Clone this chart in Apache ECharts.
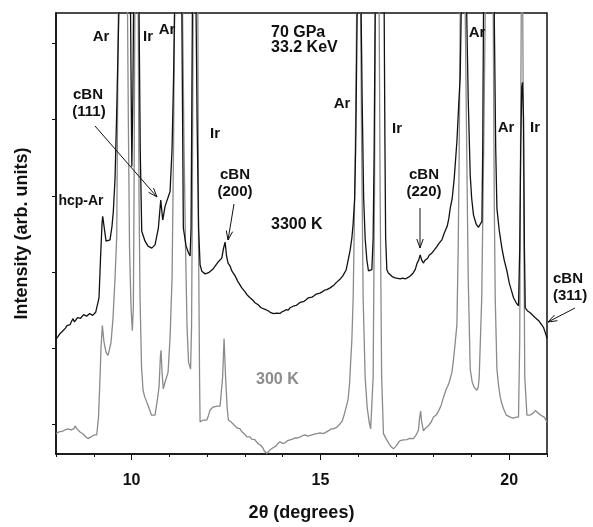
<!DOCTYPE html>
<html>
<head>
<meta charset="utf-8">
<script src="https://cdn.jsdelivr.net/npm/echarts@6/dist/echarts.min.js"></script>
<style>
html,body{margin:0;padding:0;background:#fff;}
#c{width:593px;height:527px;}
</style>
</head>
<body>
<div id="c"></div>
<script>
// 2θ (degrees), intensity (arb. units) — 3300 K pattern (black)
const hot3300K = [
[8.000,1.117],[8.050,1.150],[8.106,1.191],[8.160,1.215],[8.212,1.230],[8.250,1.262],[8.291,1.295],[8.330,1.285],[8.371,1.308],[8.410,1.350],[8.450,1.387],[8.490,1.345],[8.530,1.361],[8.570,1.400],[8.609,1.426],[8.650,1.392],[8.689,1.400],[8.730,1.440],[8.768,1.452],[8.810,1.420],[8.848,1.413],[8.890,1.455],[8.927,1.465],[8.970,1.430],[9.007,1.439],[9.050,1.470],[9.086,1.491],[9.139,1.661],[9.179,2.182],[9.219,2.639],[9.237,2.730],[9.272,2.600],[9.325,2.404],[9.377,2.404],[9.430,2.421],[9.483,2.600],[9.518,2.796],[9.563,3.226],[9.603,4.009],[9.637,4.791],[9.664,5.40],[9.815,9],[9.974,5.40],[9.992,4.270],[10.008,3.383],[10.034,4.270],[10.053,5.40],[10.119,9],[10.199,5.40],[10.230,3.617],[10.270,2.535],[10.358,2.404],[10.437,2.339],[10.535,2.313],[10.622,2.356],[10.710,2.574],[10.773,2.943],[10.826,2.682],[10.887,2.861],[10.932,2.835],[11.020,3.056],[11.073,3.617],[11.112,4.531],[11.139,5.40],[11.250,9],[11.332,5.40],[11.372,2.574],[11.444,2.339],[11.510,2.250],[11.550,2.209],[11.576,2.574],[11.597,4.270],[11.611,5.40],[11.656,9],[11.709,5.40],[11.735,4.009],[11.775,2.574],[11.815,2.095],[11.860,2.010],[11.902,1.987],[11.950,1.975],[11.992,1.965],[12.040,1.990],[12.079,2.013],[12.159,2.039],[12.212,2.078],[12.291,2.130],[12.340,2.150],[12.389,2.182],[12.437,2.313],[12.477,2.391],[12.516,2.209],[12.556,2.117],[12.609,2.078],[12.650,2.020],[12.689,1.987],[12.730,1.960],[12.768,1.922],[12.810,1.880],[12.848,1.856],[12.919,1.791],[12.960,1.770],[13.007,1.739],[13.050,1.705],[13.086,1.700],[13.130,1.665],[13.165,1.648],[13.220,1.625],[13.271,1.595],[13.310,1.585],[13.351,1.569],[13.390,1.545],[13.430,1.530],[13.480,1.520],[13.536,1.508],[13.580,1.485],[13.616,1.491],[13.670,1.470],[13.722,1.465],[13.760,1.452],[13.801,1.443],[13.840,1.460],[13.881,1.465],[13.930,1.455],[13.987,1.478],[14.040,1.490],[14.093,1.504],[14.150,1.500],[14.199,1.530],[14.250,1.545],[14.305,1.556],[14.360,1.560],[14.411,1.582],[14.460,1.600],[14.517,1.608],[14.570,1.615],[14.623,1.635],[14.680,1.660],[14.729,1.674],[14.780,1.670],[14.834,1.687],[14.890,1.710],[14.940,1.726],[14.990,1.722],[15.046,1.739],[15.110,1.760],[15.171,1.769],[15.220,1.775],[15.258,1.791],[15.310,1.815],[15.364,1.830],[15.420,1.860],[15.470,1.882],[15.510,1.900],[15.550,1.922],[15.590,1.945],[15.629,1.961],[15.682,2.026],[15.735,2.156],[15.788,2.287],[15.833,2.443],[15.868,2.639],[15.907,2.965],[15.934,3.617],[15.955,4.531],[15.973,5.40],[16.026,9],[16.079,5.40],[16.106,4.270],[16.146,2.965],[16.185,2.443],[16.230,2.160],[16.273,2.013],[16.318,2.013],[16.363,2.030],[16.397,2.443],[16.424,3.617],[16.450,5.40],[16.570,9],[16.689,5.40],[16.710,3.617],[16.728,2.443],[16.760,2.030],[16.800,1.985],[16.848,1.961],[16.900,1.940],[16.980,1.922],[17.050,1.915],[17.113,1.908],[17.180,1.920],[17.245,1.908],[17.310,1.925],[17.378,1.948],[17.457,1.987],[17.510,2.030],[17.563,2.117],[17.603,2.156],[17.642,2.225],[17.682,2.156],[17.730,2.117],[17.765,2.150],[17.801,2.170],[17.840,2.180],[17.881,2.220],[17.920,2.235],[17.952,2.248],[18.013,2.287],[18.050,2.300],[18.093,2.339],[18.145,2.378],[18.180,2.390],[18.217,2.421],[18.278,2.509],[18.357,2.600],[18.400,2.700],[18.437,2.835],[18.490,2.965],[18.543,3.226],[18.614,3.709],[18.657,4.139],[18.702,4.574],[18.728,5.40],[18.795,9],[18.874,5.40],[18.914,4.270],[18.967,3.269],[19.006,2.965],[19.054,2.747],[19.126,2.626],[19.187,2.587],[19.232,2.600],[19.277,2.665],[19.298,3.617],[19.319,5.40],[19.470,9],[19.603,5.40],[19.642,3.617],[19.674,2.835],[19.735,2.548],[19.806,2.313],[19.867,2.156],[19.939,2.013],[20.000,1.856],[20.053,1.765],[20.114,1.661],[20.185,1.595],[20.246,1.556],[20.278,2.313],[20.304,3.617],[20.331,4.426],[20.352,4.491],[20.379,4.009],[20.402,2.313],[20.424,1.530],[20.477,1.491],[20.556,1.465],[20.636,1.426],[20.690,1.400],[20.734,1.378],[20.780,1.360],[20.821,1.348],[20.870,1.300],[20.909,1.269],[20.950,1.210],[20.980,1.165],[21.000,1.126]
];

// 300 K pattern (gray)
const cold300K = [
[8.000,-0.123],[8.040,-0.110],[8.079,-0.100],[8.120,-0.105],[8.159,-0.094],[8.200,-0.085],[8.238,-0.074],[8.280,-0.080],[8.318,-0.061],[8.360,-0.068],[8.397,-0.074],[8.440,-0.060],[8.477,-0.057],[8.503,-0.022],[8.530,-0.040],[8.556,-0.061],[8.600,-0.075],[8.636,-0.100],[8.680,-0.110],[8.715,-0.127],[8.760,-0.140],[8.795,-0.166],[8.848,-0.188],[8.890,-0.175],[8.927,-0.166],[8.970,-0.150],[9.007,-0.140],[9.078,-0.140],[9.126,0.095],[9.166,0.617],[9.192,1.008],[9.227,1.295],[9.272,1.074],[9.325,0.943],[9.377,0.904],[9.412,0.917],[9.457,1.074],[9.510,1.400],[9.563,1.922],[9.608,2.469],[9.629,4.009],[9.650,5.40],[9.767,9],[9.894,5.40],[9.915,4.009],[9.947,2.313],[9.987,1.530],[10.021,1.230],[10.048,1.530],[10.066,2.965],[10.087,5.40],[10.132,9],[10.177,5.40],[10.199,2.965],[10.225,1.661],[10.265,0.747],[10.305,0.447],[10.350,0.360],[10.403,0.291],[10.450,0.230],[10.490,0.173],[10.530,0.120],[10.570,0.095],[10.622,0.121],[10.675,0.291],[10.728,0.487],[10.763,0.878],[10.781,0.973],[10.808,0.682],[10.842,0.464],[10.887,0.552],[10.932,0.578],[10.967,0.682],[11.020,1.139],[11.073,1.922],[11.112,3.617],[11.139,5.40],[11.245,9],[11.351,5.40],[11.391,3.617],[11.430,2.313],[11.470,1.269],[11.510,0.813],[11.563,0.725],[11.589,1.269],[11.611,2.965],[11.629,5.40],[11.695,9],[11.756,5.40],[11.775,2.313],[11.801,0.617],[11.815,0.030],[11.850,0.045],[11.894,0.056],[11.940,0.040],[11.992,0.056],[12.040,0.120],[12.079,0.187],[12.120,0.210],[12.159,0.226],[12.210,0.245],[12.265,0.239],[12.300,0.225],[12.344,0.239],[12.411,0.617],[12.450,1.126],[12.490,0.617],[12.530,0.226],[12.564,0.056],[12.600,0.045],[12.636,0.030],[12.680,0.010],[12.715,-0.009],[12.760,-0.030],[12.795,-0.048],[12.840,-0.040],[12.874,-0.061],[12.910,-0.090],[12.954,-0.113],[13.000,-0.130],[13.052,-0.166],[13.100,-0.155],[13.139,-0.166],[13.180,-0.195],[13.218,-0.204],[13.260,-0.200],[13.298,-0.217],[13.340,-0.250],[13.377,-0.270],[13.420,-0.275],[13.457,-0.296],[13.490,-0.320],[13.510,-0.348],[13.550,-0.360],[13.581,-0.384],[13.620,-0.360],[13.669,-0.335],[13.710,-0.320],[13.748,-0.309],[13.790,-0.300],[13.828,-0.283],[13.880,-0.250],[13.934,-0.230],[14.000,-0.250],[14.066,-0.243],[14.130,-0.215],[14.199,-0.204],[14.260,-0.195],[14.331,-0.179],[14.400,-0.180],[14.464,-0.166],[14.530,-0.150],[14.596,-0.140],[14.660,-0.155],[14.729,-0.146],[14.800,-0.135],[14.861,-0.127],[14.930,-0.120],[14.993,-0.113],[15.030,-0.130],[15.073,-0.123],[15.130,-0.110],[15.179,-0.100],[15.230,-0.080],[15.285,-0.061],[15.340,-0.060],[15.391,-0.048],[15.430,-0.040],[15.470,-0.035],[15.523,0.008],[15.576,0.043],[15.629,0.121],[15.682,0.226],[15.735,0.330],[15.775,0.552],[15.801,0.813],[15.833,1.100],[15.868,1.661],[15.894,2.469],[15.934,4.009],[15.960,5.40],[16.013,9],[16.066,5.40],[16.093,3.617],[16.132,1.661],[16.185,0.617],[16.238,0.226],[16.291,0.030],[16.331,-0.061],[16.363,-0.035],[16.397,0.617],[16.432,2.965],[16.456,5.40],[16.503,9],[16.556,5.40],[16.583,2.965],[16.622,0.617],[16.670,-0.123],[16.742,-0.192],[16.821,-0.257],[16.874,-0.296],[16.935,-0.322],[16.970,-0.300],[17.007,-0.283],[17.060,-0.243],[17.110,-0.215],[17.158,-0.192],[17.200,-0.205],[17.245,-0.217],[17.290,-0.200],[17.325,-0.204],[17.365,-0.185],[17.404,-0.192],[17.465,-0.188],[17.536,-0.140],[17.597,-0.074],[17.629,0.095],[17.655,0.173],[17.682,0.030],[17.729,-0.087],[17.765,-0.060],[17.801,-0.048],[17.840,-0.030],[17.881,-0.009],[17.934,0.030],[17.995,0.095],[18.030,0.100],[18.066,0.121],[18.127,0.173],[18.199,0.251],[18.260,0.356],[18.331,0.460],[18.370,0.500],[18.411,0.552],[18.482,0.682],[18.525,0.853],[18.570,1.074],[18.615,1.312],[18.649,2.313],[18.676,3.617],[18.702,5.40],[18.768,9],[18.835,5.40],[18.874,3.617],[18.914,1.922],[18.967,0.725],[19.020,0.552],[19.073,0.487],[19.144,0.447],[19.179,0.487],[19.205,0.617],[19.272,1.661],[19.324,3.617],[19.364,5.40],[19.470,9],[19.576,5.40],[19.603,2.965],[19.629,1.661],[19.674,0.725],[19.722,0.487],[19.762,0.356],[19.800,0.280],[19.849,0.204],[19.921,0.121],[19.970,0.100],[20.026,0.095],[20.070,0.100],[20.106,0.082],[20.150,0.095],[20.185,0.095],[20.246,0.095],[20.278,1.100],[20.299,3.617],[20.318,5.40],[20.339,9],[20.358,5.40],[20.384,2.965],[20.411,0.617],[20.469,0.121],[20.510,0.110],[20.556,0.121],[20.600,0.130],[20.636,0.147],[20.690,0.180],[20.734,0.160],[20.795,0.134],[20.874,0.108],[20.927,0.095],[20.960,0.070],[21.000,0.030]
];

const xMajorLabels = [10, 15, 20];
const yTickValues = [0, 1, 2, 3, 4, 5];

const FONT = 'Liberation Sans, Arial, Helvetica, sans-serif';

const chart = echarts.init(document.getElementById('c'), null, {renderer: 'canvas'});

function txt(x, y, s, color, align, size) {
  return {
    type: 'text', x: x, y: y, z: 100,
    style: {text: s, fill: color || '#111', font: 'bold ' + (size || 15) + 'px ' + FONT,
            textAlign: align || 'center', textVerticalAlign: 'middle'}
  };
}
function arrow(x1, y1, x2, y2) {
  const ang = Math.atan2(y2 - y1, x2 - x1);
  const L = 9, W = 3.2;
  const bx = x2 - L * Math.cos(ang), by = y2 - L * Math.sin(ang);
  const px = -Math.sin(ang) * W, py = Math.cos(ang) * W;
  return [
    {type: 'line', z: 100, shape: {x1: x1, y1: y1, x2: x2, y2: y2},
     style: {stroke: '#111', lineWidth: 1}},
    {type: 'polyline', z: 100,
     shape: {points: [[bx + px, by + py], [x2, y2], [bx - px, by - py]]},
     style: {stroke: '#111', fill: null, lineWidth: 1}}
  ];
}

const graphics = [
  txt(101, 37, 'Ar'), txt(148, 37, 'Ir'), txt(167, 30, 'Ar'),
  txt(88, 95, 'cBN'), txt(89, 112, '(111)'),
  txt(81, 201, 'hcp-Ar', '#111', 'center', 14),
  txt(215, 134, 'Ir'),
  txt(235, 175, 'cBN'), txt(235, 192, '(200)'),
  txt(271, 33, '70 GPa', '#111', 'left', 16), txt(271, 48, '33.2 KeV', '#111', 'left', 16),
  txt(271, 225, '3300 K', '#111', 'left', 16),
  txt(256, 380, '300 K', '#8c8c8c', 'left', 16),
  txt(342, 104, 'Ar'), txt(397, 129, 'Ir'),
  txt(424, 175, 'cBN'), txt(424, 192, '(220)'),
  txt(477, 33, 'Ar'), txt(506, 128, 'Ar'), txt(535, 128, 'Ir'),
  txt(553, 279, 'cBN', '#111', 'left'), txt(553, 296, '(311)', '#111', 'left')
]
.concat(arrow(95, 126, 157, 197))
.concat(arrow(234, 204, 228, 240))
.concat(arrow(420, 208, 420, 248))
.concat(arrow(575, 308, 548, 322));

const option = {
  animation: false,
  backgroundColor: '#fff',
  grid: {left: 56, top: 13, right: 46, bottom: 70, show: true,
         borderColor: '#111', borderWidth: 1.5, containLabel: false},
  xAxis: [{
    type: 'value', min: 8, max: 21, interval: 1,
    name: '2θ (degrees)', nameLocation: 'middle', nameGap: 50,
    nameTextStyle: {fontFamily: FONT, fontWeight: 'bold', fontSize: 18, color: '#111'},
    axisLine: {onZero: false, lineStyle: {color: '#111', width: 1.5}},
    axisTick: {show: true, length: 3, lineStyle: {color: '#111', width: 1}},
    axisLabel: {
      fontFamily: FONT, fontWeight: 'bold', fontSize: 16, color: '#111', margin: 19,
      formatter: v => (xMajorLabels.indexOf(v) >= 0 ? String(v) : '')
    },
    splitLine: {show: false}
  }, {
    type: 'value', min: 8, max: 21, position: 'bottom',
    axisLine: {show: false, onZero: false},
    axisTick: {show: true, length: 6, customValues: xMajorLabels, lineStyle: {color: '#111', width: 1}},
    axisLabel: {show: false},
    splitLine: {show: false}
  }],
  yAxis: {
    type: 'value', min: -0.39, max: 5.40,
    name: 'Intensity (arb. units)', nameLocation: 'middle', nameGap: 25,
    nameTextStyle: {fontFamily: FONT, fontWeight: 'bold', fontSize: 18, color: '#111'},
    axisLine: {show: true, onZero: false, lineStyle: {color: '#111', width: 1.5}},
    axisTick: {show: true, length: 4, customValues: yTickValues, lineStyle: {color: '#111', width: 1}},
    axisLabel: {show: false},
    splitLine: {show: false}
  },
  series: [
    {name: '300 K', type: 'line', data: cold300K, showSymbol: false, symbol: 'none',
     clip: true, lineStyle: {color: '#8a8a8a', width: 1.3}, z: 2},
    {name: '3300 K', type: 'line', data: hot3300K, showSymbol: false, symbol: 'none',
     clip: true, lineStyle: {color: '#111', width: 1.3}, z: 3}
  ],
  graphic: graphics
};
chart.setOption(option);
</script>
</body>
</html>
